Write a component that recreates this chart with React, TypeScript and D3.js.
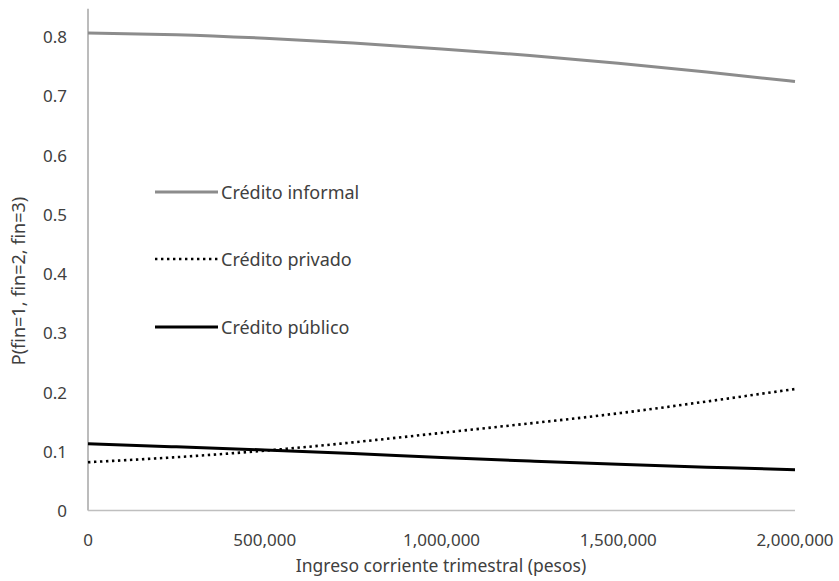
import React from "react";
import * as d3 from "d3";

const incomes = [0, 250000, 500000, 750000, 1000000, 1250000, 1500000, 1750000, 2000000];
const informal = [0.806, 0.803, 0.797, 0.789, 0.779, 0.768, 0.755, 0.740, 0.724];
const privado = [0.0815, 0.090, 0.101, 0.115, 0.131, 0.147, 0.164, 0.184, 0.205];
const publico = [0.1125, 0.1075, 0.1022, 0.0962, 0.0895, 0.0835, 0.078, 0.0732, 0.0687];
const yTicks = [0, 0.1, 0.2, 0.3, 0.4, 0.5, 0.6, 0.7, 0.8];
const xTicks = [0, 500000, 1000000, 1500000, 2000000];
const seriesNames = ["Crédito informal", "Crédito privado", "Crédito público"];

const W = 839, H = 581;
const FONT = "'Noto Sans', 'Open Sans', sans-serif";
const TXT = "#404040";

export default function App() {
  const x = d3.scaleLinear().domain([0, 2000000]).range([88, 795]);
  const y = d3.scaleLinear().domain([0, 0.8]).range([510.5, 36.5]);
  const yTop = y(0.847);
  const line = (vals: number[]) =>
    d3.line<number>().x((_, i) => x(incomes[i])).y((d) => y(d)).curve(d3.curveNatural)(vals) || "";
  const fmt = d3.format(",");
  const series = [
    { name: seriesNames[0], vals: informal, color: "#8c8c8c", width: 3, dash: undefined as string | undefined, ly: 192 },
    { name: seriesNames[1], vals: privado, color: "#000", width: 2.6, dash: "2.4,3.6", ly: 259 },
    { name: seriesNames[2], vals: publico, color: "#000", width: 3, dash: undefined, ly: 327 },
  ];
  return (
    <svg width={W} height={H} style={{ position: "absolute", left: 0, top: 0, background: "#fff" }} fontFamily={FONT}>
      <rect width={W} height={H} fill="#fff" />
      <line x1={x(0)} x2={x(0)} y1={yTop} y2={y(0)} stroke="#a6a6a6" strokeWidth={1.5} />
      <line x1={x(0)} x2={x(2000000)} y1={y(0)} y2={y(0)} stroke="#bfbfbf" strokeWidth={1.5} />
      {yTicks.map((t) => (
        <text key={t} x={67} y={y(t)} textAnchor="end" dominantBaseline="central" fontSize={17} fill={TXT}>
          {t === 0 ? "0" : t.toFixed(1)}
        </text>
      ))}
      {xTicks.map((t) => (
        <text key={t} x={x(t)} y={539} textAnchor="middle" dominantBaseline="central" fontSize={17} fill={TXT}>
          {fmt(t)}
        </text>
      ))}
      <text x={441} y={565} textAnchor="middle" dominantBaseline="central" fontSize={17.5} fill={TXT}>
        Ingreso corriente trimestral (pesos)
      </text>
      <text transform={`translate(18,281) rotate(-90)`} textAnchor="middle" dominantBaseline="central" fontSize={18} fill={TXT}>
        P(fin=1, fin=2, fin=3)
      </text>
      {series.map((s) => (
        <path key={s.name} d={line(s.vals)} fill="none" stroke={s.color} strokeWidth={s.width} strokeDasharray={s.dash} />
      ))}
      {series.map((s) => (
        <g key={"lg" + s.name}>
          <line x1={155} x2={218} y1={s.ly} y2={s.ly} stroke={s.color} strokeWidth={s.width} strokeDasharray={s.dash} />
          <text x={221} y={s.ly} dominantBaseline="central" fontSize={18} fill={TXT}>{s.name}</text>
        </g>
      ))}
    </svg>
  );
}
